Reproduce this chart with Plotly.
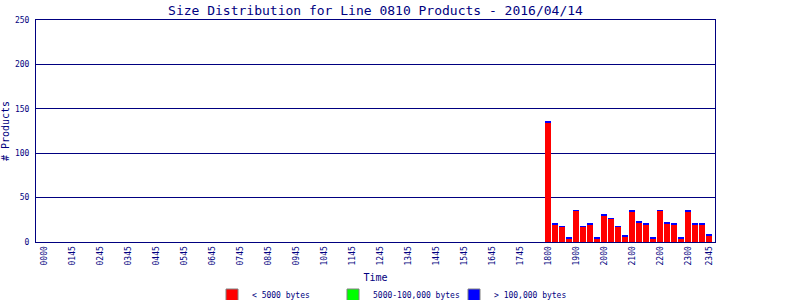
import plotly.graph_objects as go

# ---- data ----
slot_times = [f"{h:02d}{m:02d}" for h in range(24) for m in (0, 15, 30, 45)]  # x categories (96 x 15 min)
times = ["1800", "1815", "1830", "1845", "1900", "1915", "1930", "1945",
         "2000", "2015", "2030", "2045", "2100", "2115", "2130", "2145",
         "2200", "2215", "2230", "2245", "2300", "2315", "2330", "2345"]
small = [135, 20, 17, 4, 35, 17, 20, 4, 30, 26, 17, 6, 34, 22, 20, 4, 35, 21, 20, 4, 34, 20, 20, 7]
medium = [0] * 24
large = [1] * 24

tick_vals = ["0000", "0100", "0200", "0300", "0400", "0500", "0600", "0700", "0800",
             "0900", "1000", "1100", "1200", "1300", "1400", "1500", "1600", "1700",
             "1800", "1900", "2000", "2100", "2200", "2300", "2345"]
tick_text = ["0000", "0145", "0245", "0345", "0445", "0545", "0645", "0745", "0845",
             "0945", "1045", "1145", "1245", "1345", "1445", "1545", "1645", "1745",
             "1800", "1900", "2000", "2100", "2200", "2300", "2345"]
y_ticks = [0, 50, 100, 150, 200, 250]

series = [("< 5000 bytes", small, "#FF0000"),
          ("5000-100,000 bytes", medium, "#00FF00"),
          ("> 100,000 bytes", large, "#0000FF")]

NAVY = "#000080"
FONT = "DejaVu Sans Mono"

fig = go.Figure()
for name, vals, col in series:
    fig.add_trace(go.Bar(x=times, y=vals, name=name, marker=dict(color=col, line=dict(width=0)),
                         showlegend=False))
for name, vals, col in series:
    fig.add_trace(go.Scatter(x=[None], y=[None], mode="markers", name=name,
                             marker=dict(symbol="square", size=12, color=col,
                                         line=dict(color="#808080", width=1))))

fig.update_layout(
    width=800, height=300,
    margin=dict(l=36, r=85, t=20, b=58, autoexpand=False),
    paper_bgcolor="white", plot_bgcolor="white",
    barmode="stack", bargap=1/7,
    font=dict(family=FONT, color=NAVY, size=9),
    title=dict(text="Size Distribution for Line 0810 Products - 2016/04/14",
               x=(36 + 715) / 2 / 800, xanchor="center", y=1 - 10 / 300, yanchor="middle",
               font=dict(size=13, color=NAVY, family=FONT)),
    legend=dict(orientation="h", x=(212 - 36) / 679, xanchor="left", y=-53 / 222, yanchor="middle",
                font=dict(size=8, color=NAVY, family=FONT), traceorder="normal",
                entrywidth=76, entrywidthmode="pixels", itemwidth=30,
                bgcolor="rgba(0,0,0,0)", tracegroupgap=0),
    xaxis=dict(type="category", categoryorder="array", categoryarray=slot_times,
               range=[-1.14, 95.86], tickmode="array", tickvals=tick_vals, ticktext=tick_text,
               tickangle=-90, tickfont=dict(size=8, color=NAVY, family=FONT),
               showgrid=False, showline=True, linecolor=NAVY, linewidth=1, mirror=True,
               ticks="", zeroline=False, automargin=False,
               title=dict(text="Time", font=dict(size=10, color=NAVY, family=FONT), standoff=9)),
    yaxis=dict(range=[0, 250], tickmode="array", tickvals=y_ticks,
               tickfont=dict(size=8, color=NAVY, family=FONT),
               showgrid=True, gridcolor=NAVY, gridwidth=1,
               showline=True, linecolor=NAVY, linewidth=1, mirror=True,
               ticks="", zeroline=False, ticklabelstandoff=4, automargin=False,
               title=dict(text="# Products", font=dict(size=10, color=NAVY, family=FONT), standoff=5)),
)

fig.write_html("out.html")
